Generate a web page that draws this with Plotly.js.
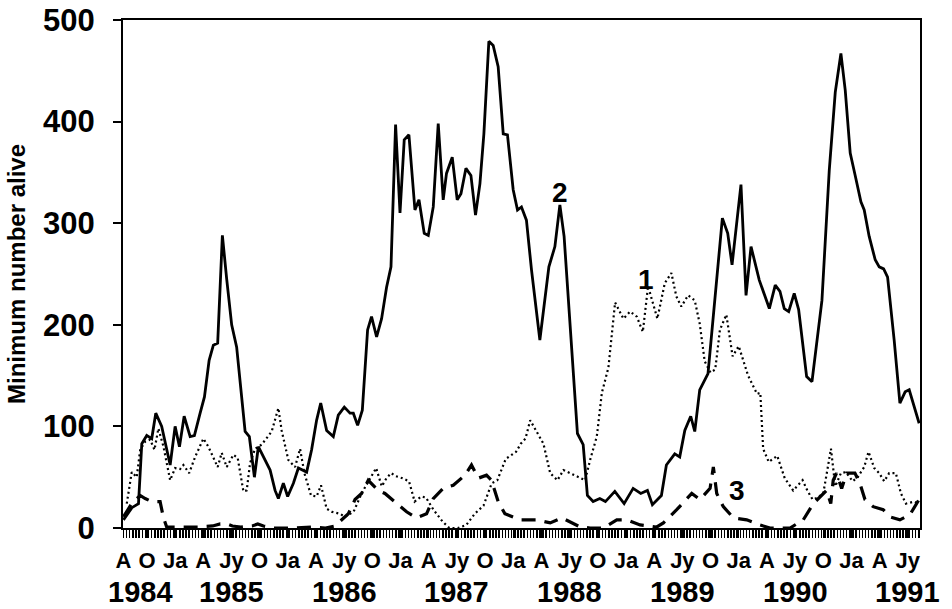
<!DOCTYPE html>
<html>
<head>
<meta charset="utf-8">
<script src="https://cdn.plot.ly/plotly-3.0.1.min.js"></script>
<style>
html,body{margin:0;padding:0;background:#fff;}
#chart{width:952px;height:609px;}
</style>
</head>
<body>
<div id="chart"></div>
<script>
// Time unit: months since 1 August 1984
// Series 1 (dotted)
const t1 = [0.35,0.88,1.41,1.78,2.31,2.84,3.3,3.72,4.26,4.61,
4.97,5.5,6.03,6.38,6.99,7.63,8.51,9.04,9.57,10.03,
10.46,10.99,11.7,12.16,12.77,13.12,13.48,14.01,14.71,15.78,
16.49,16.84,17.55,18.27,18.8,19.26,19.97,20.56,21.03,21.63,
22.16,23.05,23.59,24.5,25.4,26.0,26.9,27.5,28.0,28.5,
29.0,29.7,30.4,31.0,31.7,32.2,33.0,34.0,34.7,35.6,
36.5,37.4,38.33,39.2,39.8,40.7,41.3,41.8,42.3,42.8,
43.3,44.01,44.71,45.43,46.2,46.84,47.55,48.27,49.15,49.68,
50.39,50.93,51.63,52.34,53.22,53.94,54.65,55.29,55.85,56.84,
57.63,58.33,58.86,59.39,60.11,60.82,61.35,61.88,62.5,63.0,
63.5,64.18,64.85,65.5,66.5,67.45,67.8,68.1,68.7,69.6,
70.4,71.3,72.3,72.8,73.37,73.9,74.5,74.97,75.32,75.78,
76.38,76.91,77.63,78.16,78.86,79.32,79.93,80.46,80.99,81.52,
82.23,82.77,83.3,84.18,84.7];
const n1 = [24,55,50,77,85,87,77,98,80,64,
47,59,58,62,54,70,88,80,69,60,
74,60,72,69,36,37,64,78,82,95,
118,96,67,60,78,54,32,31,42,19,
16,14,11,16,35,45,59,41,49,54,
51,49,46,26,31,30,18,6,0,0,
3,14,22,44,47,68,72,75,83,88,
106,95,83,54,47,57,54,51,47,67,
90,133,158,222,206,213,208,193,238,206,
241,251,228,218,229,224,201,164,153,156,
195,210,169,179,150,132,133,78,65,71,
49,37,47,37,28,30,34,59,78,41,
54,55,46,50,60,75,59,54,46,54,
54,34,24,26,24];

// Series 2 (solid)
const t2 = [0,0.9,1.6,1.95,2.48,3.01,3.44,4.07,4.97,5.5,
5.96,6.46,7.1,7.55,8.16,8.62,9.12,9.57,10.03,10.53,
10.99,11.52,12.05,12.95,13.4,13.94,14.36,15.07,15.61,16.14,
16.49,17.02,17.48,18.09,18.62,19.5,20.03,20.56,21.0,21.63,
22.34,22.87,23.51,24.12,24.47,24.93,25.43,25.99,26.41,26.95,
27.48,28.01,28.48,28.97,29.44,29.89,30.39,31.03,31.46,32.02,
32.45,32.98,33.51,34.04,34.39,35.0,35.53,35.93,36.46,36.99,
37.48,37.95,38.37,38.9,39.36,39.89,40.43,40.88,41.49,41.95,
42.37,42.9,43.44,44.33,45.29,45.93,46.46,46.91,47.69,48.33,
48.94,49.39,50.0,50.71,51.31,52.31,53.3,54.26,55.07,55.78,
56.31,57.27,57.8,58.69,59.22,59.76,60.39,60.82,61.35,62.23,
63.76,64.33,64.79,65.74,66.28,66.81,67.69,68.76,69.39,69.89,
70.35,70.82,71.41,71.88,72.73,73.3,74.36,75.14,75.78,76.38,
76.84,77.37,77.9,78.51,78.86,79.39,80.03,80.46,80.93,81.35,
82.05,82.66,83.22,83.65,84.71];
const n2 = [8,20,24,83,91,88,113,100,62,100,
80,110,90,91,113,129,165,180,182,288,
245,200,178,95,90,50,80,67,57,37,
29,44,31,44,59,55,77,106,123,96,
90,111,119,113,113,101,116,195,208,188,
206,237,257,397,310,382,387,313,323,290,
288,316,398,323,349,365,323,329,354,347,
308,339,388,479,475,454,388,387,333,313,
316,303,254,185,257,277,318,287,175,93,
82,32,26,29,26,36,24,39,34,37,
23,32,62,73,70,96,110,95,136,152,
305,290,259,338,229,277,244,216,239,233,
216,213,231,215,149,144,224,352,429,467,
431,369,347,321,313,287,264,257,255,247,
185,123,134,136,103];

// Series 3 (dashed)
const t3 = [0,0.88,1.78,2.31,3.01,3.9,4.26,4.6,6.0,8.0,
9.5,10.3,11.0,11.6,12.5,13.7,14.3,14.9,16.0,18.0,
20.0,21.5,22.5,23.22,23.94,24.65,25.35,26.06,26.6,27.13,
27.84,28.9,30.14,31.2,32.27,32.98,34.04,35.11,36.35,37.05,
37.77,38.65,39.18,39.89,40.61,41.67,42.37,44.01,45.43,46.67,
47.55,48.62,49.68,51.1,52.52,53.59,55.0,56.78,57.48,58.9,
60.5,61.38,62.45,62.8,63.16,63.86,64.93,66.35,67.77,68.83,
70.96,72.37,73.44,74.86,75.3,75.56,75.92,76.46,76.99,77.87,
78.4,78.94,79.82,80.88,81.6,82.66,83.72,84.26,84.7];
const n3 = [11,24,32,29,26,26,10,1,1,1,
2,4,4,2,1,2,4,2,0,0,
1,0,2,8,14,28,34,47,42,37,
34,26,16,10,14,29,39,42,52,62,
49,52,47,26,14,10,8,8,5,10,
6,1,0,0,8,8,3,1,5,18,
34,28,39,60,34,21,10,8,3,0,
0,8,24,37,24,47,54,39,54,54,
44,28,21,18,11,8,13,21,28];

// Axis labels
const monthTickVals = [0,2.5,5.5,8.5,11.5,14.5,17.5,20.5,23.5,26.5,29.5,32.5,35.5,38.5,41.5,44.5,47.5,50.5,53.5,56.5,59.5,62.5,65.5,68.5,71.5,74.5,77.5,80.5,83.5];
const monthTickText = ['A','O','Ja','A','Jy','O','Ja','A','Jy','O','Ja','A','Jy','O','Ja','A','Jy','O','Ja','A','Jy','O','Ja','A','Jy','O','Ja','A','Jy'];
const yearText = ['1984','1985','1986','1987','1988','1989','1990','1991'];
const yearPos = [1.8,11.5,23.5,35.5,47.5,59.5,71.5,83.5];
const yTickVals = [0,100,200,300,400,500];

// Series labels
const seriesLabelText = ['1','2','3'];
const seriesLabelX = [55.6,46.5,65.3];
const seriesLabelY = [245,330,37];

const FONT = 'Liberation Sans, Arial, Helvetica, sans-serif';

const traces = [
  {x:t1, y:n1, type:'scatter', mode:'lines', line:{color:'#000', width:2.2, dash:'2px,3px'}, hoverinfo:'skip'},
  {x:t2, y:n2, type:'scatter', mode:'lines', line:{color:'#000', width:2.8}, hoverinfo:'skip'},
  {x:t3, y:n3, type:'scatter', mode:'lines', line:{color:'#000', width:3.2, dash:'14px,9px'}, hoverinfo:'skip'}
];

const annotations = [];
yearText.forEach((t,i)=>annotations.push({
  text:t, x:yearPos[i], xref:'x', y:-0.125, yref:'paper', showarrow:false,
  xanchor:'center', yanchor:'middle', font:{family:FONT, size:29, weight:'bold', color:'#000'}
}));
seriesLabelText.forEach((t,i)=>annotations.push({
  text:t, x:seriesLabelX[i], xref:'x', y:seriesLabelY[i], yref:'y', showarrow:false,
  xanchor:'center', yanchor:'middle', font:{family:FONT, size:28, weight:'bold', color:'#000'}
}));

const layout = {
  width:952, height:609,
  margin:{l:123, r:32, t:20, b:81, pad:0},
  paper_bgcolor:'#fff', plot_bgcolor:'#fff',
  showlegend:false,
  font:{family:FONT, color:'#000'},
  xaxis:{
    range:[-0.05,84.8],
    showgrid:false, zeroline:false,
    showline:true, linecolor:'#000', linewidth:2, mirror:true,
    tickmode:'array', tickvals:monthTickVals, ticktext:monthTickText,
    ticks:'outside', ticklen:8, tickwidth:1.5, tickcolor:'#000',
    tickfont:{family:FONT, size:22, weight:'bold', color:'#000'},
    ticklabelstandoff:4,
    minor:{ticks:'outside', tickmode:'linear', tick0:0, dtick:1/3, ticklen:8, tickwidth:1.5, tickcolor:'#000', showgrid:false}
  },
  yaxis:{
    range:[0,500],
    showgrid:false, zeroline:false,
    showline:true, linecolor:'#000', linewidth:2, mirror:true,
    tickmode:'array', tickvals:yTickVals,
    ticks:'outside', ticklen:8, tickwidth:2, tickcolor:'#000',
    tickfont:{family:FONT, size:31, weight:'bold', color:'#000'},
    ticklabelstandoff:12,
    title:{text:'Minimum number alive', standoff:11,
      font:{family:FONT, size:24, weight:'bold', color:'#000'}}
  },
  annotations:annotations
};

Plotly.newPlot('chart', traces, layout, {displayModeBar:false, staticPlot:true});
</script>
</body>
</html>
